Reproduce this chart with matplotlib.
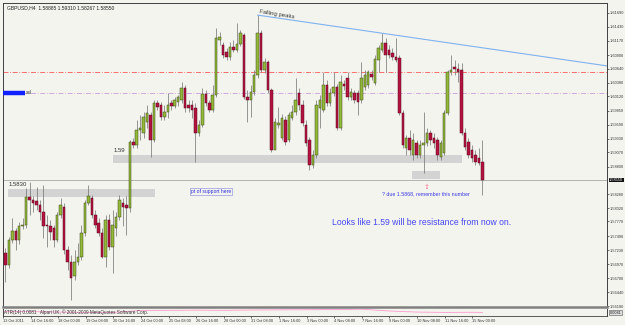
import numpy as np
import matplotlib
matplotlib.use("agg")
import matplotlib.pyplot as plt
from matplotlib.patches import Rectangle

plt.rcParams["font.family"] = ["Liberation Sans", "DejaVu Sans"]

symbol = "GBPUSD,H4"

# H4 candles, 13 Oct 2011 .. 15 Nov 2011
opens = [1.5733, 1.5718, 1.5695, 1.5742, 1.5759, 1.5742, 1.5769, 1.5770, 1.5823, 1.5817,
         1.5816, 1.5808, 1.5795, 1.5770, 1.5769, 1.5765, 1.5742, 1.5789, 1.5804, 1.5723,
         1.5701, 1.5674, 1.5701, 1.5710, 1.5755, 1.5812, 1.5821, 1.5789, 1.5774, 1.5755,
         1.5710, 1.5780, 1.5729, 1.5765, 1.5785, 1.5812, 1.5808, 1.5802, 1.5926, 1.5921,
         1.5949, 1.5943, 1.5964, 1.5977, 1.5930, 1.6000, 1.5996, 1.5973, 1.5983, 1.6000,
         1.5994, 1.6002, 1.6005, 1.6028, 1.5996, 1.5996, 1.5990, 1.5943, 1.5958, 1.6017,
         1.6000, 1.5987, 1.6015, 1.6118, 1.6109, 1.6096, 1.6086, 1.6105, 1.6099, 1.6111,
         1.6128, 1.6011, 1.6005, 1.6020, 1.6052, 1.6131, 1.6062, 1.6077, 1.6024, 1.5911,
         1.5958, 1.5934, 1.5968, 1.5930, 1.5972, 1.5983, 1.6019, 1.5996, 1.5958, 1.5930,
         1.5883, 1.5902, 1.5990, 1.5987, 1.6034, 1.6000, 1.6019, 1.6030, 1.5953, 1.6036,
         1.6047, 1.6011, 1.6019, 1.6019, 1.6005, 1.6030, 1.6034, 1.6054, 1.6037, 1.6081,
         1.6099, 1.6113, 1.6099, 1.6094, 1.6086, 1.6084, 1.5981, 1.5915, 1.5934, 1.5902,
         1.5925, 1.5902, 1.5921, 1.5925, 1.5943, 1.5934, 1.5930, 1.5898, 1.5906, 1.5981,
         1.6058, 1.6067, 1.6064, 1.6062, 1.5943, 1.5926, 1.5911, 1.5902, 1.5896, 1.58885]
highs = [1.5750, 1.5727, 1.5748, 1.5784, 1.5765, 1.5776, 1.5784, 1.5840, 1.5851, 1.5825,
         1.5842, 1.5817, 1.5846, 1.5789, 1.5780, 1.5770, 1.5795, 1.5821, 1.5812, 1.5731,
         1.5714, 1.5723, 1.5737, 1.5770, 1.5817, 1.5846, 1.5827, 1.5799, 1.5784, 1.5765,
         1.5789, 1.5791, 1.5799, 1.5795, 1.5827, 1.5821, 1.5825, 1.5930, 1.5934, 1.5968,
         1.5977, 1.5983, 1.5996, 1.5983, 1.6005, 1.6005, 1.6002, 1.5996, 1.6019, 1.6005,
         1.6011, 1.6015, 1.6039, 1.6034, 1.6005, 1.6005, 1.6000, 1.5968, 1.6028, 1.6024,
         1.6005, 1.6034, 1.6141, 1.6133, 1.6114, 1.6103, 1.6114, 1.6118, 1.6150, 1.6137,
         1.6131, 1.6024, 1.6034, 1.6062, 1.6165, 1.6137, 1.6084, 1.6081, 1.6028, 1.5972,
         1.5992, 1.5979, 1.5975, 1.5983, 1.5996, 1.6047, 1.6028, 1.6005, 1.5968, 1.5936,
         1.5911, 1.6005, 1.6015, 1.6058, 1.6043, 1.6028, 1.6058, 1.6036, 1.6052, 1.6043,
         1.6058, 1.6028, 1.6024, 1.6024, 1.6077, 1.6062, 1.6062, 1.6062, 1.6090, 1.6109,
         1.6131, 1.6122, 1.6109, 1.6103, 1.6122, 1.6090, 1.5987, 1.5940, 1.5949, 1.5943,
         1.5930, 1.5930, 1.5983, 1.5953, 1.5949, 1.5943, 1.5936, 1.5930, 1.5987, 1.6062,
         1.6090, 1.6081, 1.6075, 1.6075, 1.5953, 1.5934, 1.5921, 1.5911, 1.5915, 1.59310]
lows = [1.5701, 1.5663, 1.5690, 1.5737, 1.5723, 1.5735, 1.5763, 1.5765, 1.5789, 1.5795,
        1.5799, 1.5780, 1.5746, 1.5729, 1.5742, 1.5729, 1.5738, 1.5784, 1.5716, 1.5686,
        1.5629, 1.5667, 1.5695, 1.5705, 1.5750, 1.5808, 1.5784, 1.5765, 1.5750, 1.5708,
        1.5691, 1.5723, 1.5680, 1.5750, 1.5780, 1.5769, 1.5752, 1.5795, 1.5915, 1.5915,
        1.5930, 1.5934, 1.5953, 1.5898, 1.5926, 1.5987, 1.5968, 1.5968, 1.5972, 1.5987,
        1.5990, 1.5994, 1.6000, 1.5983, 1.5983, 1.5972, 1.5889, 1.5938, 1.5955, 1.5994,
        1.5983, 1.5983, 1.6011, 1.6109, 1.6084, 1.6081, 1.6081, 1.6096, 1.6096, 1.6107,
        1.6007, 1.5964, 1.5973, 1.6015, 1.6047, 1.6058, 1.6056, 1.6019, 1.5908, 1.5926,
        1.5953, 1.5930, 1.5921, 1.5926, 1.5968, 1.5977, 1.5987, 1.5956, 1.5919, 1.5874,
        1.5878, 1.5896, 1.5953, 1.5983, 1.5994, 1.5994, 1.6013, 1.5949, 1.5949, 1.6024,
        1.6005, 1.6005, 1.6000, 1.5977, 1.6000, 1.6024, 1.6028, 1.6043, 1.6034, 1.6058,
        1.6096, 1.6058, 1.6084, 1.6081, 1.6077, 1.5977, 1.5915, 1.5902, 1.5902, 1.5893,
        1.5896, 1.5896, 1.5868, 1.5919, 1.5921, 1.5915, 1.5893, 1.5893, 1.5902, 1.5977,
        1.6052, 1.6052, 1.6039, 1.5940, 1.5911, 1.5896, 1.5889, 1.5883, 1.5883, 1.58267]
closes = [1.5714, 1.5695, 1.5742, 1.5759, 1.5742, 1.5769, 1.5770, 1.5823, 1.5817, 1.5812,
          1.5808, 1.5795, 1.5769, 1.5769, 1.5757, 1.5742, 1.5789, 1.5808, 1.5723, 1.5701,
          1.5671, 1.5701, 1.5710, 1.5755, 1.5812, 1.5825, 1.5789, 1.5770, 1.5755, 1.5710,
          1.5780, 1.5729, 1.5770, 1.5785, 1.5817, 1.5804, 1.5802, 1.5926, 1.5921, 1.5949,
          1.5953, 1.5973, 1.5981, 1.5930, 1.6000, 1.5992, 1.5973, 1.5983, 1.5996, 1.5994,
          1.6005, 1.6011, 1.6028, 1.5990, 1.5990, 1.5987, 1.5943, 1.5958, 1.6017, 1.6000,
          1.5987, 1.6015, 1.6122, 1.6124, 1.6090, 1.6086, 1.6105, 1.6099, 1.6111, 1.6131,
          1.6011, 1.6005, 1.6020, 1.6052, 1.6131, 1.6062, 1.6077, 1.6024, 1.5911, 1.5964,
          1.5962, 1.5972, 1.5926, 1.5977, 1.5983, 1.6005, 1.5996, 1.5962, 1.5925, 1.5883,
          1.5902, 1.5996, 1.6005, 1.6034, 1.6000, 1.6019, 1.6030, 1.5953, 1.6039, 1.6032,
          1.6011, 1.6020, 1.6005, 1.6002, 1.6047, 1.6052, 1.6058, 1.6049, 1.6083, 1.6103,
          1.6113, 1.6090, 1.6090, 1.6086, 1.6081, 1.5981, 1.5921, 1.5934, 1.5911, 1.5930,
          1.5902, 1.5921, 1.5925, 1.5943, 1.5930, 1.5925, 1.5902, 1.5925, 1.5981, 1.6058,
          1.6062, 1.6064, 1.6058, 1.5943, 1.5917, 1.5902, 1.5896, 1.5889, 1.5887, 1.58550]

# right price scale
price_ticks = [1.61690, 1.61430, 1.61170, 1.60900, 1.60640, 1.60380, 1.60120, 1.59850,
               1.59590, 1.59330, 1.59070, 1.58800, 1.58280, 1.58020, 1.57770, 1.57490,
               1.57230, 1.56970, 1.56700, 1.56440, 1.56180]

# time scale (one label every 8 bars)
date_ticks = list(range(0, 137, 8))
date_labels = ["13 Oct 2011", "14 Oct 16:00", "18 Oct 00:00", "19 Oct 08:00", "20 Oct 16:00",
               "24 Oct 00:00", "25 Oct 08:00", "26 Oct 16:00", "28 Oct 00:00", "31 Oct 08:00",
               "1 Nov 16:00", "3 Nov 00:00", "4 Nov 08:00", "7 Nov 16:00", "9 Nov 00:00",
               "10 Nov 08:00", "11 Nov 16:00", "15 Nov 00:00"]

# sub-window indicator (sampled every 8 bars)
ind_bars = [0, 8, 16, 24, 32, 40, 48, 56, 64, 72, 80, 88, 96, 104, 112, 120, 128, 136, 139]
ind_values = [0.60, 0.62, 0.55, 0.50, 0.50, 0.78, 0.80, 0.82, 0.80, 0.84, 0.86, 0.88,
              0.90, 0.95, 0.70, 0.55, 0.50, 0.52, 0.50]

# drawn objects
red_level = 1.6058
pink_level = 1.6019
zone_159 = (1.5887, 1.5902)
zone_1583 = (1.5823, 1.5838)
zone_due = (1.5857, 1.5872)

o = np.array(opens)
h = np.array(highs)
l = np.array(lows)
c = np.array(closes)
x = np.arange(len(c))
up = c >= o

bg = "#f4f4ef"
fig = plt.figure(figsize=(6.25, 3.25), dpi=100, facecolor=bg)
ax = fig.add_axes([3 / 625, 18 / 325, 604 / 625, 304 / 325])
ax.set_facecolor(bg)
xmax = 175.1
ax.set_xlim(0.3, xmax)
ax.set_ylim(1.56162, 1.61878)

# zones behind candles
ax.add_patch(Rectangle((32.1, zone_159[0]), 100.9, zone_159[1] - zone_159[0],
                       color="#d3d3d3", lw=0, zorder=1))
ax.add_patch(Rectangle((1.7, zone_1583[0]), 42.5, zone_1583[1] - zone_1583[0],
                       color="#d3d3d3", lw=0, zorder=1))
ax.add_patch(Rectangle((118.8, zone_due[0]), 8.1, zone_due[1] - zone_due[0],
                       color="#d3d3d3", lw=0, zorder=1))

ax.axhline(red_level, color="#ff5a5a", lw=0.6, ls=(0, (6, 2, 1, 2)), zorder=1.5)
ax.axhline(pink_level, color="#c8a0d8", lw=0.6, ls=(0, (6, 2, 1, 2)), zorder=1.5)
ax.axhline(c[-1], color="#a8a8a8", lw=0.6, zorder=1.5)

# candles
ax.vlines(x, l, h, color="#7a7a7a", lw=0.55, zorder=2)
ax.bar(x[up], np.maximum(c - o, 0.00008)[up], bottom=o[up], width=0.72,
       color="#93b83a", edgecolor="#3d4a17", lw=0.35, zorder=3)
ax.bar(x[~up], (c - o)[~up], bottom=o[~up], width=0.72,
       color="#b4123f", edgecolor="#5a0a20", lw=0.35, zorder=3)

# falling peaks trend line (ray through the two tops)
slope = (h[110] - h[74]) / (110 - 74)
ax.plot([74, xmax], [h[74], h[74] + slope * (xmax - 74)], color="#7fb2f0", lw=0.8, zorder=4)
ax.text(74.3, h[74] + 0.0002, "Falling peaks", fontsize=4.3, color="#333333",
        rotation=-9, rotation_mode="anchor", ha="left", va="bottom", zorder=5)

ax.text(32.2, zone_159[1] + 0.0003, "1.59", fontsize=4.3, color="#333333", va="bottom")
ax.text(2.0, zone_1583[1] + 0.0003, "1.5830", fontsize=4.3, color="#333333", va="bottom")
ax.text(60.5, 1.5833, "pt of support here", fontsize=3.6, color="#2b2bdc", ha="center",
        va="center", bbox=dict(boxstyle="square,pad=0.15", fc=bg, ec="#8080e0", lw=0.4))
ax.text(122.8, 1.5842, "\u21e7", fontsize=5, color="#ff6a8a", ha="center", va="center",
        family="DejaVu Sans")
ax.text(122.8, 1.5829, "? due 1.5868, remember this number", fontsize=3.8,
        color="#3a3ae0", ha="center", va="center")
ax.text(95.4, 1.5776, "Looks like 1.59 will be resistance from now on.", fontsize=6.2,
        color="#4646f0", ha="left", va="center")

# blue object marker on the left
ax.plot([0.3, 6.6], [pink_level, pink_level], color="#1020ff", lw=3.2,
        solid_capstyle="butt", zorder=5)
ax.text(7.0, pink_level, "ssl", fontsize=3.6, color="#333333", va="center")

ax.text(0.006, 0.992, "%s  %.5f %.5f %.5f %.5f" % (symbol, opens[-1], highs[-1], lows[-1], closes[-1]),
        transform=ax.transAxes, fontsize=3.6, color="#222222", va="top", ha="left")

ax.yaxis.tick_right()
ax.set_yticks(price_ticks)
ax.set_yticklabels(["%.5f" % v for v in price_ticks])
ax.tick_params(axis="y", labelsize=2.8, length=1.5, width=0.5, pad=0.5, colors="#333333")
ax.set_xticks([])
for s in ["left", "top", "right"]:
    ax.spines[s].set_color("#404040")
    ax.spines[s].set_linewidth(0.7)
ax.spines["bottom"].set_color("#808080")
ax.spines["bottom"].set_linewidth(1.8)

# bid label on the price scale
ax.text(1.0035, c[-1], "%.5f" % c[-1], transform=ax.get_yaxis_transform(), fontsize=2.8,
        color="white", va="center", ha="left",
        bbox=dict(boxstyle="square,pad=0.1", fc="#111111", ec="none"))

# indicator sub-window
ax2 = fig.add_axes([3 / 625, 9 / 325, 604 / 625, 7.5 / 325])
ax2.set_facecolor(bg)
ax2.plot(ind_bars, ind_values, color="#ff9ccf", lw=0.6)
ax2.set_xlim(0.3, xmax)
ax2.set_ylim(0, 1.05)
ax2.set_yticks([])
ax2.set_xticks(date_ticks)
ax2.set_xticklabels(date_labels, ha="left")
ax2.tick_params(axis="x", labelsize=2.8, length=1.5, width=0.5, pad=0.8, colors="#333333")
for s in ["left", "right"]:
    ax2.spines[s].set_color("#404040")
    ax2.spines[s].set_linewidth(0.7)
ax2.spines["top"].set_visible(False)
ax2.spines["bottom"].set_color("#404040")
ax2.spines["bottom"].set_linewidth(0.6)
ax2.text(0.002, 0.5, "ATR(14) 0.0081   Alpari UK, \u00a9 2001-2009 MetaQuotes Software Corp.",
         transform=ax2.transAxes, fontsize=3.3, color="#333333", va="center", ha="left")
ax2.text(1.004, 0.45, "0.0081", transform=ax2.transAxes, fontsize=2.8,
         color="#222222", va="center", ha="left",
         bbox=dict(boxstyle="square,pad=0.1", fc="#e0e0e0", ec="#555555", lw=0.4))

fig.savefig("out.png", dpi=100, facecolor=bg)
